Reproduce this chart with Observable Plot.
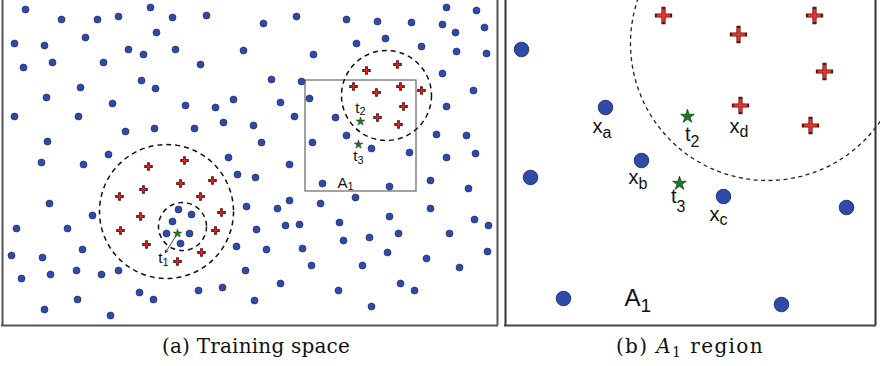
<!DOCTYPE html>
<html>
<head>
<meta charset="utf-8">
<script src="https://cdn.jsdelivr.net/npm/d3@7"></script>
<script src="https://cdn.jsdelivr.net/npm/@observablehq/plot@0.6"></script>
<style>
  html, body { margin: 0; padding: 0; background: #fff; }
  #wrap { position: relative; width: 880px; height: 366px; }
  #left { position: absolute; left: 0; top: 0; }
  #right { position: absolute; left: 500px; top: 0; }
  .cap { position: absolute; top: 334px; line-height: 24px; font-family: "DejaVu Serif", serif; font-size: 20px; letter-spacing: 0.2px; color: #111; text-align: center; white-space: nowrap; }
  .cap sub { font-size: 14px; vertical-align: -4px; line-height: 0; }
</style>
</head>
<body>
<div id="wrap">
  <div id="left"></div>
  <div id="right"></div>
  <div class="cap" style="left:150px;width:212px">(a) Training space</div>
  <div class="cap" style="left:584px;width:212px;letter-spacing:1.4px">(b) <i>A</i><sub>1</sub> region</div>
</div>
<script>
// ---------- Panel (a): training space ----------
const leftBlue = [
  [25,9],[61,19],[97,19],[118,16],[150,7],[172,17],[206,15],[14,43],[44,45],[85,37],[156,32],[128,49],[143,54],[175,49],[243,50],
  [23,67],[52,62],[103,62],[200,64],[141,80],[155,88],[80,87],[46,97],[112,103],[185,105],[215,107],[233,99],[14,116],[78,116],
  [125,131],[154,128],[194,128],[223,122],[47,141],[108,154],[228,157],[41,162],[83,164],[253,125],
  [263,23],[296,16],[346,19],[377,21],[411,22],[446,7],[476,10],[442,24],[455,32],[484,27],[356,43],[385,38],[421,46],[313,54],
  [456,51],[486,53],[271,79],[301,81],[442,73],[473,90],[280,102],[309,98],[294,116],[335,117],[446,106],[261,142],[312,142],
  [346,135],[371,148],[409,152],[436,134],[466,135],[446,157],[475,153],[289,164],
  [237,174],[49,203],[92,215],[246,206],[16,228],[67,228],[178,209],[191,214],[172,221],[166,233],[189,233],[180,243],[236,246],
  [11,255],[42,257],[82,249],[21,278],[50,274],[76,270],[101,274],[118,270],[245,270],[139,292],[153,299],[198,290],[222,287],
  [77,299],[44,309],[110,315],
  [255,177],[322,183],[389,186],[430,180],[468,188],[355,197],[277,208],[289,200],[320,203],[430,208],[389,216],[474,219],
  [488,225],[256,229],[285,225],[299,224],[339,222],[343,240],[369,237],[398,233],[449,233],[266,249],[302,248],[387,252],
  [426,258],[487,251],[311,265],[362,265],[459,267],[280,283],[338,290],[400,283],[414,290],[254,300],[371,306]
];
const leftRed = [
  [366,70],[397,64],[353,86],[376,92],[400,86],[421,90],[403,106],[377,117],[398,124],
  [148,166],[184,160],[180,183],[212,180],[143,189],[119,196],[200,196],[140,216],[221,212],[120,230],[215,230],[146,244],
  [201,252],[177,261]
];
const leftStars = [[360,121],[358,144],[177,233]];
const leftCircles = [[386,95,45],[166,211,67],[182,226,24]]; // cx, cy, radius
const leftRect = [[305,80,416,191]];
const leftArrow = [[177,233,165,252]];
const leftLabelText = [["t","2"],["t","3"],["t","1"],["A","1"]];
const leftLabelPos = [[359,112,114],[357,160,163],[162,262,265],[347,187,189]];
const leftFrameX = [2, 497];
const leftFrameY = [325];

// ---------- Panel (b): A1 region ----------
const rightBlue = [[521,49],[605,107],[641,160],[530,177],[723,196],[846,207],[563,298],[781,304]];
const rightRed = [[663,15],[814,15],[738,34],[824,71],[740,105],[810,125]];
const rightStars = [[687,116],[679,183]];
const rightCircles = [[767,43,137]];
const rightLabelText = [["x","a"],["t","2"],["x","d"],["x","b"],["t","3"],["x","c"],["A","1"]];
const rightLabelPos = [[602,132,137],[690,140,146],[739,132,136],[638,183,188],[676,202,211],[719,220,224],[640,305,311]];
const rightFrameX = [505, 875];
const rightFrameY = [325];

const BLUE = "#2e4aab", BLUE_EDGE = "#1a1f4a";
const RED = "#d8282a", RED_EDGE = "#5a1414";
const GREEN = "#1d7a22", GREEN_EDGE = "#0b3a0e";
const SANS = "'Liberation Sans', Roboto, Arial, sans-serif";

function labels(text, pos, main, sub) {
  const rows = text.map((t, i) => ({base: t[0], sub: t[1], x: pos[i][0], y: pos[i][1], sy: pos[i][2], big: t[0] === "A"}));
  return [
    Plot.text(rows, {x: "x", y: "y", text: "base", textAnchor: "end", lineAnchor: "bottom",
      fontSize: d => d.big ? main.A : main.t, fontFamily: SANS, fill: "#111"}),
    Plot.text(rows, {x: "x", y: "sy", text: "sub", textAnchor: "start", lineAnchor: "bottom",
      fontSize: d => d.big ? sub.A : sub.t, fontFamily: SANS, fill: "#111"})
  ];
}

function panel(width, x0, marks) {
  return Plot.plot({
    width, height: 326, margin: 0,
    x: {domain: [x0, x0 + width], range: [0, width], axis: null},
    y: {domain: [0, 326], range: [0, 326], axis: null},
    r: {type: "identity"},
    style: {background: "transparent", overflow: "visible"},
    marks
  });
}

const left = panel(500, 0, [
  Plot.ruleX(leftFrameX, {y1: 0, y2: 325, stroke: "#555", strokeWidth: 2}),
  Plot.ruleY(leftFrameY, {x1: 1, x2: 498, stroke: "#555", strokeWidth: 2}),
  Plot.rect(leftRect, {x1: d => d[0], y1: d => d[1], x2: d => d[2], y2: d => d[3], fill: "none", stroke: "#666", strokeWidth: 1.2}),
  Plot.dot(leftCircles, {x: d => d[0], y: d => d[1], r: d => d[2], fill: "none", stroke: "#111", strokeWidth: 1.5, strokeDasharray: "5,4"}),
  Plot.dot(leftBlue, {x: d => d[0], y: d => d[1], r: 3.5, fill: BLUE, stroke: BLUE_EDGE, strokeWidth: 0.6}),
  Plot.dot(leftRed, {x: d => d[0], y: d => d[1], r: 2.0, symbol: "plus", stroke: RED_EDGE, strokeWidth: 2.8, strokeLinecap: "square"}),
  Plot.dot(leftRed, {x: d => d[0], y: d => d[1], r: 2.0, symbol: "plus", stroke: RED, strokeWidth: 1.5}),
  Plot.arrow(leftArrow, {x1: d => d[0], y1: d => d[1], x2: d => d[2], y2: d => d[3], stroke: "#111", strokeWidth: 0.8, headLength: 5}),
  Plot.dot(leftStars, {x: d => d[0], y: d => d[1], r: 2.7, symbol: "star", fill: GREEN, stroke: GREEN_EDGE, strokeWidth: 0.5}),
  ...labels(leftLabelText, leftLabelPos, {t: 15, A: 15}, {t: 11, A: 11})
]);

const right = panel(380, 500, [
  Plot.ruleX(rightFrameX, {y1: 0, y2: 325, stroke: "#333", strokeWidth: 2}),
  Plot.ruleY(rightFrameY, {x1: 504, x2: 876, stroke: "#444", strokeWidth: 2}),
  Plot.dot(rightCircles, {x: d => d[0], y: d => d[1], r: d => d[2], fill: "none", stroke: "#222", strokeWidth: 1.3, strokeDasharray: "4,3.5"}),
  Plot.dot(rightBlue, {x: d => d[0], y: d => d[1], r: 7.3, fill: BLUE, stroke: BLUE_EDGE, strokeWidth: 0.8}),
  Plot.dot(rightRed, {x: d => d[0], y: d => d[1], r: 4.3, symbol: "plus", stroke: RED_EDGE, strokeWidth: 4.2, strokeLinecap: "square"}),
  Plot.dot(rightRed, {x: d => d[0], y: d => d[1], r: 4.3, symbol: "plus", stroke: "#e8342c", strokeWidth: 2.6}),
  Plot.dot(rightStars, {x: d => d[0], y: d => d[1], r: 4.3, symbol: "star", fill: GREEN, stroke: GREEN_EDGE, strokeWidth: 0.7}),
  ...labels(rightLabelText, rightLabelPos, {t: 20, A: 24}, {t: 16, A: 19})
]);

document.getElementById("left").append(left);
document.getElementById("right").append(right);
</script>
</body>
</html>
